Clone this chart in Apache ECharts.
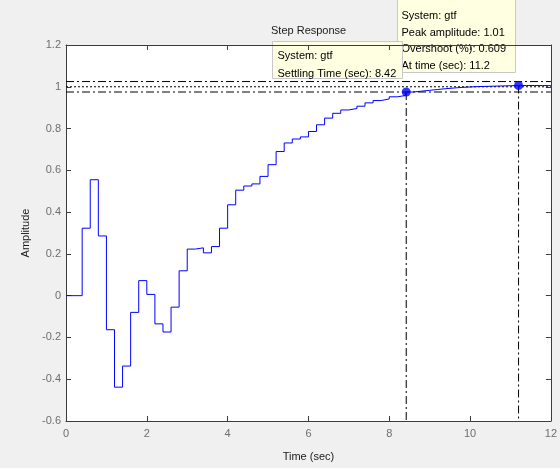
<!DOCTYPE html>
<html>
<head>
<meta charset="utf-8">
<script src="https://cdn.jsdelivr.net/npm/echarts@6/dist/echarts.min.js"></script>
<style>
  html, body { margin: 0; padding: 0; background: #f0f0f0; }
  #chart { width: 560px; height: 468px; }
</style>
</head>
<body>
<div id="chart"></div>
<script>
// Discrete step response of gtf, sampled every 0.2 s (zero-order hold)
const sampleTime = 0.2;
const amplitude = [
  0, 0, 0.323, 0.555, 0.286, -0.163, -0.438, -0.337, -0.080, 0.072,
  0.006, -0.135, -0.174, -0.055, 0.119, 0.223, 0.229, 0.205, 0.235, 0.323,
  0.435, 0.505, 0.525, 0.535, 0.571, 0.627, 0.690, 0.731, 0.750, 0.760,
  0.786, 0.818, 0.850, 0.873, 0.889, 0.896, 0.907, 0.923, 0.934, 0.942,
  0.952, 0.958, 0.975, 0.979, 0.983, 0.987, 0.991, 0.994, 0.997, 0.999,
  1.001, 1.002, 1.003, 1.004, 1.005, 1.0058, 1.0061, 1.0060, 1.0058, 1.0055,
  1.0052
];

// Response characteristics
const steadyState = 1.0;
const settleBounds = [0.975, 1.025];
const settlingTime = 8.42;
const settlingValue = 0.975;
const peakTime = 11.2;
const peakAmplitude = 1.0061;
const overshootPct = 0.609;

// Axis ranges and ticks
const xRange = [0, 12], xStep = 2;
const yRange = [-0.6, 1.2], yStep = 0.2;

const steps = amplitude.map((v, i) => [+(i * sampleTime).toFixed(1), v]);

const FONT = '"Liberation Sans", Arial, sans-serif';
const AXIS_COLOR = '#3c3c3c';
const LABEL_COLOR = '#6e6e6e';
const dashDot = [8, 3, 2, 3];

const chart = echarts.init(document.getElementById('chart'), null, { renderer: 'canvas' });

function hline(y, type) {
  return {
    type: 'line', silent: true, symbol: 'none', animation: false,
    data: [[xRange[0], y], [xRange[1], y]],
    lineStyle: { color: '#000', width: 1, type: type }, z: 3
  };
}
function vline(x, y) {
  return {
    type: 'line', silent: true, symbol: 'none', animation: false,
    data: [[x, y], [x, yRange[0]]],
    lineStyle: { color: '#000', width: 1, type: dashDot }, z: 3
  };
}

const baseX = {
  type: 'value', min: xRange[0], max: xRange[1], interval: xStep,
  axisLine: { show: true, onZero: false, lineStyle: { color: AXIS_COLOR, width: 1 } },
  axisTick: { show: true, inside: true, length: 5, lineStyle: { color: AXIS_COLOR } },
  splitLine: { show: false }
};
const baseY = {
  type: 'value', min: yRange[0], max: yRange[1], interval: yStep,
  axisLine: { show: true, onZero: false, lineStyle: { color: AXIS_COLOR, width: 1 } },
  axisTick: { show: true, inside: true, length: 5, lineStyle: { color: AXIS_COLOR } },
  splitLine: { show: false }
};

chart.setOption({
  animation: false,
  backgroundColor: '#f0f0f0',
  grid: {
    left: 66, right: 6, top: 45, bottom: 47,
    show: true, backgroundColor: '#ffffff', borderWidth: 0
  },
  xAxis: [
    Object.assign({}, baseX, {
      position: 'bottom',
      name: 'Time (sec)', nameLocation: 'middle', nameGap: 30,
      nameTextStyle: { color: '#1a1a1a', fontSize: 11, fontFamily: FONT },
      axisLabel: { color: LABEL_COLOR, fontSize: 11, fontFamily: FONT, margin: 7 }
    }),
    Object.assign({}, baseX, { position: 'top', axisLabel: { show: false } })
  ],
  yAxis: [
    Object.assign({}, baseY, {
      position: 'left',
      name: 'Amplitude', nameLocation: 'middle', nameGap: 31,
      nameTextStyle: { color: '#1a1a1a', fontSize: 11, fontFamily: FONT },
      axisLabel: {
        color: LABEL_COLOR, fontSize: 11, fontFamily: FONT, margin: 5,
        formatter: v => String(+v.toFixed(1))
      }
    }),
    Object.assign({}, baseY, { position: 'right', axisLabel: { show: false } })
  ],
  series: [
    hline(settleBounds[1], dashDot),
    hline(steadyState, [2, 2]),
    hline(settleBounds[0], dashDot),
    vline(settlingTime, settlingValue),
    vline(peakTime, peakAmplitude),
    {
      name: 'gtf', type: 'line', step: 'end', symbol: 'none',
      data: steps,
      lineStyle: { color: '#0000ff', width: 1 }, z: 4
    },
    {
      type: 'scatter', symbol: 'circle', symbolSize: 9, silent: true,
      data: [[settlingTime, settlingValue], [peakTime, peakAmplitude]],
      itemStyle: { color: '#0000ff' }, z: 5
    }
  ],
  graphic: [
    {
      type: 'text', left: 271, top: 25, z: 10,
      style: { text: 'Step Response', fill: '#1a1a1a', font: '11px ' + FONT }
    },
    // peak response data tip
    {
      type: 'group', left: 397, top: -1, z: 20,
      children: [
        { type: 'rect', shape: { x: 0, y: 0, width: 118, height: 73 },
          style: { fill: '#ffffe1', stroke: '#c8c8c8', lineWidth: 1 } },
        { type: 'text', x: 4, y: 8,
          style: { text: 'System: gtf\nPeak amplitude: ' + peakAmplitude.toFixed(2) +
                         '\nOvershoot (%): ' + overshootPct +
                         '\nAt time (sec): ' + peakTime,
                   fill: '#000', font: '11px ' + FONT, lineHeight: 16.7 } }
      ]
    },
    // settling time data tip
    {
      type: 'group', left: 272, top: 41, z: 30,
      children: [
        { type: 'rect', shape: { x: 0, y: 0, width: 130, height: 37 },
          style: { fill: '#ffffe1', stroke: '#c8c8c8', lineWidth: 1 } },
        { type: 'text', x: 5, y: 6,
          style: { text: 'System: gtf\nSettling Time (sec): ' + settlingTime,
                   fill: '#000', font: '11px ' + FONT, lineHeight: 17.5 } }
      ]
    }
  ]
});
</script>
</body>
</html>
